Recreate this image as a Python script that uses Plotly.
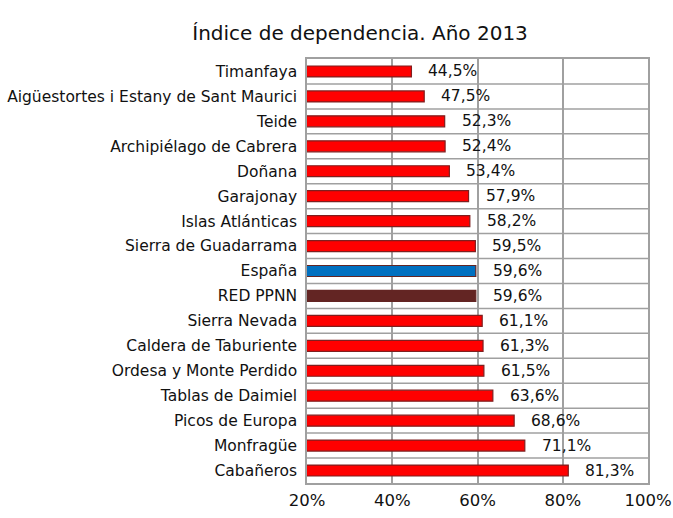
import plotly.graph_objects as go

categories = ["Timanfaya", "Aigüestortes i Estany de Sant Maurici", "Teide",
              "Archipiélago de Cabrera", "Doñana", "Garajonay", "Islas Atlánticas",
              "Sierra de Guadarrama", "España", "RED PPNN", "Sierra Nevada",
              "Caldera de Taburiente", "Ordesa y Monte Perdido", "Tablas de Daimiel",
              "Picos de Europa", "Monfragüe", "Cabañeros"]
values = [44.5, 47.5, 52.3, 52.4, 53.4, 57.9, 58.2, 59.5, 59.6, 59.6, 61.1,
          61.3, 61.5, 63.6, 68.6, 71.1, 81.3]
x_ticks = [20, 40, 60, 80, 100]
x_ticklabels = ["20%", "40%", "60%", "80%", "100%"]

fill_colors = []
line_colors = []
for c in categories:
    if c == "España":
        fill_colors.append("#0070C0")
        line_colors.append("#632523")
    elif c == "RED PPNN":
        fill_colors.append("#632523")
        line_colors.append("#632523")
    else:
        fill_colors.append("#FF0000")
        line_colors.append("#7F1F1F")

ypos = list(range(len(categories)))
labels = [("%.1f%%" % v).replace(".", ",") for v in values]

FONT = "'DejaVu Sans', sans-serif"
GRID = "#A0A0A0"

fig = go.Figure(go.Bar(
    x=values, y=ypos, orientation="h", width=0.44,
    marker=dict(color=fill_colors, line=dict(color=line_colors, width=1.2)),
    hoverinfo="x+y",
))

for i, (v, t) in enumerate(zip(values, labels)):
    fig.add_annotation(x=v, y=i, text=t, showarrow=False, xanchor="left",
                       yanchor="middle", xshift=15,
                       font=dict(family=FONT, size=15.5, color="#111"))

for i in range(len(categories) - 1):
    fig.add_shape(type="line", xref="paper", x0=0, x1=1, y0=i + 0.5, y1=i + 0.5,
                  line=dict(color=GRID, width=1.5), layer="below")

fig.update_layout(
    width=673, height=518,
    margin=dict(l=307, r=25, t=59, b=35),
    paper_bgcolor="white", plot_bgcolor="white",
    title=dict(text="Índice de dependencia. Año 2013", x=0.535, xanchor="center",
               y=0.936, yanchor="middle",
               font=dict(family=FONT, size=20, color="#111")),
    showlegend=False,
)
fig.update_xaxes(range=[20, 100], tickvals=x_ticks, ticktext=x_ticklabels,
                 showgrid=True, gridcolor=GRID, gridwidth=1.5,
                 showline=True, linecolor=GRID, linewidth=1.5, mirror=True,
                 ticks="outside", ticklen=1, tickcolor="rgba(0,0,0,0)",
                 tickfont=dict(family=FONT, size=16.5, color="#111"),
                 zeroline=False, automargin=False)
fig.update_yaxes(range=[len(categories) - 0.5, -0.5], tickvals=ypos, ticktext=categories,
                 showgrid=False, showline=True, linecolor=GRID, linewidth=1.5, mirror=True,
                 ticks="outside", ticklen=5, tickcolor="rgba(0,0,0,0)",
                 tickfont=dict(family=FONT, size=15.5, color="#111"),
                 zeroline=False, automargin=False)

fig.write_html("out.html", config={"displayModeBar": False},
               post_script="document.body.style.margin='0px';")
